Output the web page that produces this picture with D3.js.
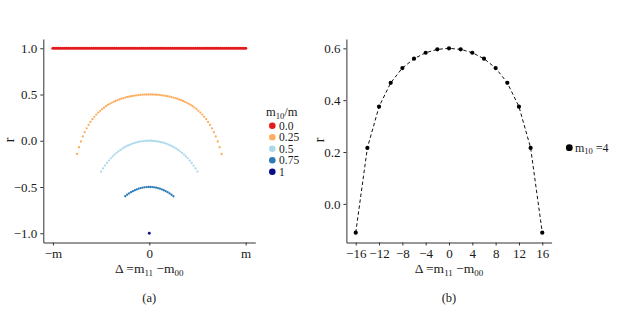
<!DOCTYPE html>
<html>
<head>
<meta charset="utf-8">
<script src="https://cdn.jsdelivr.net/npm/d3@7"></script>
<style>
  body { margin: 0; background: #fff; }
  svg text { font-family: "Liberation Serif", "DejaVu Serif", serif !important; fill: #1a1a1a; }
</style>
</head>
<body>
<svg id="chart" width="620" height="317"></svg>
<script>
// ---- panel (a): m = 100, delta = m11 - m00 ----
const redDelta = [-100,-98,-96,-94,-92,-90,-88,-86,-84,-82,-80,-78,-76,-74,-72,-70,-68,-66,-64,-62,-60,-58,-56,-54,-52,-50,-48,-46,-44,-42,-40,-38,-36,-34,-32,-30,-28,-26,-24,-22,-20,-18,-16,-14,-12,-10,-8,-6,-4,-2,0,2,4,6,8,10,12,14,16,18,20,22,24,26,28,30,32,34,36,38,40,42,44,46,48,50,52,54,56,58,60,62,64,66,68,70,72,74,76,78,80,82,84,86,88,90,92,94,96,98,100];
const redR = [1,1,1,1,1,1,1,1,1,1,1,1,1,1,1,1,1,1,1,1,1,1,1,1,1,1,1,1,1,1,1,1,1,1,1,1,1,1,1,1,1,1,1,1,1,1,1,1,1,1,1,1,1,1,1,1,1,1,1,1,1,1,1,1,1,1,1,1,1,1,1,1,1,1,1,1,1,1,1,1,1,1,1,1,1,1,1,1,1,1,1,1,1,1,1,1,1,1,1,1,1];

const orangeDelta = [-75,-73,-71,-69,-67,-65,-63,-61,-59,-57,-55,-53,-51,-49,-47,-45,-43,-41,-39,-37,-35,-33,-31,-29,-27,-25,-23,-21,-19,-17,-15,-13,-11,-9,-7,-5,-3,-1,1,3,5,7,9,11,13,15,17,19,21,23,25,27,29,31,33,35,37,39,41,43,45,47,49,51,53,55,57,59,61,63,65,67,69,71,73,75];
const orangeR = [-0.143,-0.070,-0.008,0.046,0.093,0.134,0.171,0.204,0.233,0.259,0.283,0.305,0.324,0.342,0.358,0.373,0.387,0.399,0.410,0.421,0.430,0.439,0.447,0.454,0.461,0.467,0.472,0.477,0.481,0.485,0.488,0.491,0.494,0.496,0.498,0.499,0.500,0.500,
                 0.500,0.500,0.499,0.498,0.496,0.494,0.491,0.488,0.485,0.481,0.477,0.472,0.467,0.461,0.454,0.447,0.439,0.430,0.421,0.410,0.399,0.387,0.373,0.358,0.342,0.324,0.305,0.283,0.259,0.233,0.204,0.171,0.134,0.093,0.046,-0.008,-0.070,-0.143];

const lightDelta = [-50,-48,-46,-44,-42,-40,-38,-36,-34,-32,-30,-28,-26,-24,-22,-20,-18,-16,-14,-12,-10,-8,-6,-4,-2,0,2,4,6,8,10,12,14,16,18,20,22,24,26,28,30,32,34,36,38,40,42,44,46,48,50];
const lightR = [-0.333,-0.299,-0.268,-0.240,-0.214,-0.190,-0.169,-0.149,-0.131,-0.114,-0.099,-0.085,-0.073,-0.061,-0.051,-0.042,-0.033,-0.026,-0.020,-0.015,-0.010,-0.006,-0.004,-0.002,0.000,0.000,
                0.000,-0.002,-0.004,-0.006,-0.010,-0.015,-0.020,-0.026,-0.033,-0.042,-0.051,-0.061,-0.073,-0.085,-0.099,-0.114,-0.131,-0.149,-0.169,-0.190,-0.214,-0.240,-0.268,-0.299,-0.333];

const blueDelta = [-25,-23,-21,-19,-17,-15,-13,-11,-9,-7,-5,-3,-1,1,3,5,7,9,11,13,15,17,19,21,23,25];
const blueR = [-0.600,-0.584,-0.569,-0.556,-0.545,-0.535,-0.526,-0.518,-0.512,-0.507,-0.504,-0.501,-0.500,
               -0.500,-0.501,-0.504,-0.507,-0.512,-0.518,-0.526,-0.535,-0.545,-0.556,-0.569,-0.584,-0.600];

const navyDelta = [0];
const navyR = [-1];

const groupLabels = ["0.0", "0.25", "0.5", "0.75", "1"];
const groupColors = ["#e41a1c", "#fdae61", "#abd9e9", "#2c7bb6", "#0a0a8c"];

// ---- panel (b): m10 = 4 ----
const deltaB = [-16,-14,-12,-10,-8,-6,-4,-2,0,2,4,6,8,10,12,14,16];
const rB = [-0.111,0.216,0.375,0.467,0.524,0.560,0.583,0.596,0.600,0.596,0.583,0.560,0.524,0.467,0.375,0.216,-0.111];

const ticksA_x = [-100, 0, 100];
const ticksA_xLabels = ["\u2212m", "0", "m"];
const ticksA_y = [-1, -0.5, 0, 0.5, 1];
const ticksB_x = [-16, -12, -8, -4, 0, 4, 8, 12, 16];
const ticksB_y = [0, 0.2, 0.4, 0.6];

const serif = '"Liberation Serif", "DejaVu Serif", serif';
const svg = d3.select("#chart").attr("font-family", serif);
const tickFont = "13px";

function styleAxis(g) {
  g.attr("font-family", serif);
  g.selectAll(".domain").attr("stroke", "#333").attr("stroke-width", 1);
  g.selectAll(".tick line").attr("stroke", "#333");
  g.selectAll(".tick text").style("font-size", tickFont).style("font-family", serif).attr("fill", "#1a1a1a");
}

function deltaLabel(x, y) {
  const t = svg.append("text").attr("x", x).attr("y", y).attr("text-anchor", "middle").style("font-size", "13.5px");
  t.append("tspan").text("\u0394 =m");
  t.append("tspan").text("11").style("font-size", "9px").attr("dy", 3);
  t.append("tspan").text(" \u2212m").attr("dy", -3);
  t.append("tspan").text("00").style("font-size", "9px").attr("dy", 3);
}

// ===== panel (a) =====
const xA = d3.scaleLinear().domain([-110, 110]).range([43.3, 255.3]);
const yA = d3.scaleLinear().domain([-1.1, 1.1]).range([242.5, 39]);

const series = [
  { d: redDelta, r: redR },
  { d: orangeDelta, r: orangeR },
  { d: lightDelta, r: lightR },
  { d: blueDelta, r: blueR },
  { d: navyDelta, r: navyR }
];

series.forEach((s, i) => {
  svg.append("g").selectAll("circle")
    .data(s.d.map((d, j) => ({ d, r: s.r[j] })))
    .join("circle")
    .attr("cx", p => xA(p.d))
    .attr("cy", p => yA(p.r))
    .attr("r", i === 0 ? 1.6 : (i === 4 ? 1.4 : 1.15))
    .attr("fill", groupColors[i]);
});

svg.append("g")
  .attr("transform", `translate(0,${yA.range()[0]})`)
  .call(d3.axisBottom(xA).tickValues(ticksA_x).tickSize(3).tickSizeOuter(0)
    .tickFormat((d, i) => ticksA_xLabels[i]))
  .call(styleAxis);

svg.append("g")
  .attr("transform", `translate(${xA.range()[0]},0)`)
  .call(d3.axisLeft(yA).tickValues(ticksA_y).tickSize(3).tickSizeOuter(0).tickFormat(d3.format(".1f")))
  .call(styleAxis);

svg.append("text").attr("transform", "translate(14,140) rotate(-90)")
  .attr("text-anchor", "middle").style("font-size", "14px").text("r");
deltaLabel(149.3, 272.5);
svg.append("text").attr("x", 149.3).attr("y", 302).attr("text-anchor", "middle")
  .style("font-size", "12.5px").text("(a)");

// legend (a)
const legA = svg.append("g");
const legTitle = legA.append("text").attr("x", 266).attr("y", 116).style("font-size", "12.5px");
legTitle.append("tspan").text("m");
legTitle.append("tspan").text("10").style("font-size", "8.5px").attr("dy", 2.5);
legTitle.append("tspan").text("/m").attr("dy", -2.5);

groupLabels.forEach((lab, i) => {
  const cy = 125.7 + i * 11.5;
  legA.append("circle").attr("cx", 272.3).attr("cy", cy).attr("r", 3.3).attr("fill", groupColors[i]);
  legA.append("text").attr("x", 279).attr("y", cy + 3.8).style("font-size", "11.5px").text(lab);
});

// ===== panel (b) =====
const xB = d3.scaleLinear().domain([-17.6, 17.6]).range([346.4, 551.6]);
const yB = d3.scaleLinear().domain([-0.149, 0.636]).range([242.5, 39]);

svg.append("path")
  .datum(deltaB.map((d, i) => ({ d, r: rB[i] })))
  .attr("fill", "none")
  .attr("stroke", "#111")
  .attr("stroke-width", 1)
  .attr("stroke-dasharray", "3.5,2.5")
  .attr("d", d3.line().x(p => xB(p.d)).y(p => yB(p.r)));

svg.append("g").selectAll("circle")
  .data(deltaB.map((d, i) => ({ d, r: rB[i] })))
  .join("circle")
  .attr("cx", p => xB(p.d))
  .attr("cy", p => yB(p.r))
  .attr("r", 2.1)
  .attr("fill", "#000");

svg.append("g")
  .attr("transform", `translate(0,${yB.range()[0]})`)
  .call(d3.axisBottom(xB).tickValues(ticksB_x).tickSize(3).tickSizeOuter(0).tickFormat(d3.format("d")))
  .call(styleAxis);

svg.append("g")
  .attr("transform", `translate(${xB.range()[0]},0)`)
  .call(d3.axisLeft(yB).tickValues(ticksB_y).tickSize(3).tickSizeOuter(0).tickFormat(d3.format(".1f")))
  .call(styleAxis);

svg.append("text").attr("transform", "translate(324,140) rotate(-90)")
  .attr("text-anchor", "middle").style("font-size", "14px").text("r");
deltaLabel(449, 272.5);
svg.append("text").attr("x", 449).attr("y", 302).attr("text-anchor", "middle")
  .style("font-size", "12.5px").text("(b)");

// legend (b)
svg.append("circle").attr("cx", 569.3).attr("cy", 147.7).attr("r", 3.4).attr("fill", "#000");
const legB = svg.append("text").attr("x", 575).attr("y", 151.5).style("font-size", "12px");
legB.append("tspan").text("m");
legB.append("tspan").text("10").style("font-size", "8.5px").attr("dy", 2.5);
legB.append("tspan").text(" =4").attr("dy", -2.5);
</script>
</body>
</html>
